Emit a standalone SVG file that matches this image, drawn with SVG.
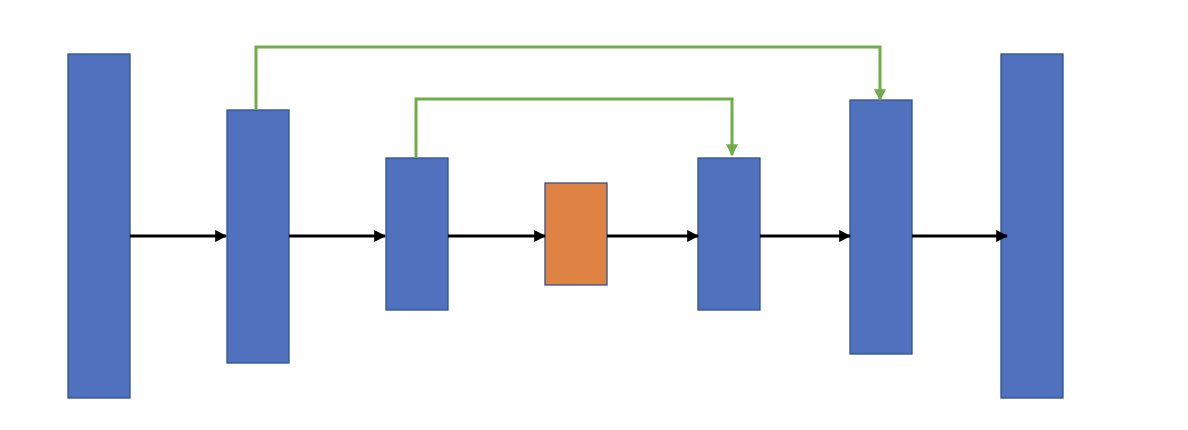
<svg xmlns="http://www.w3.org/2000/svg" width="1188" height="430" viewBox="0 0 1188 430">
<style>
.blk{fill:#4F71BE;stroke:#2F528F;stroke-width:1.3}
.mid{fill:#DE8344;stroke:#2F528F;stroke-width:1.3}
.fw{stroke:#000;stroke-width:3;fill:none;marker-end:url(#ah)}
.sk{stroke:#70AD47;stroke-width:3;fill:none;marker-end:url(#gh)}
</style>
<defs>
<marker id="ah" markerWidth="4" markerHeight="4" refX="3.6" refY="2" orient="auto" markerUnits="strokeWidth"><path d="M0,0 L4,2 L0,4 Z" fill="#000"/></marker>
<marker id="gh" markerWidth="4" markerHeight="4" refX="3.6" refY="2" orient="auto" markerUnits="strokeWidth"><path d="M0,0 L4,2 L0,4 Z" fill="#70AD47"/></marker>
</defs>
<rect width="1188" height="430" fill="#fff"/>
<g id="n1"><rect class="blk" x="68" y="54" width="62" height="344"/></g>
<g id="n2"><rect class="blk" x="227" y="110" width="62" height="253"/></g>
<g id="n3"><rect class="blk" x="386" y="158" width="62" height="152"/></g>
<g id="n4"><rect class="mid" x="545" y="183" width="62" height="102"/></g>
<g id="n5"><rect class="blk" x="698" y="158" width="62" height="152"/></g>
<g id="n6"><rect class="blk" x="850" y="100" width="62" height="254"/></g>
<g id="n7"><rect class="blk" x="1001" y="54" width="62" height="344"/></g>
<g id="connectors">
<path class="fw" d="M130,236 H226"/>
<path class="fw" d="M289,236 H385"/>
<path class="fw" d="M448,236 H545"/>
<path class="fw" d="M607,236 H698"/>
<path class="fw" d="M760,236 H850"/>
<path class="fw" d="M912,236 H1007"/>
<path class="sk" d="M256,109 V47 H880 V100"/>
<path class="sk" d="M416,157 V99 H732 V155"/>
</g>
</svg>
